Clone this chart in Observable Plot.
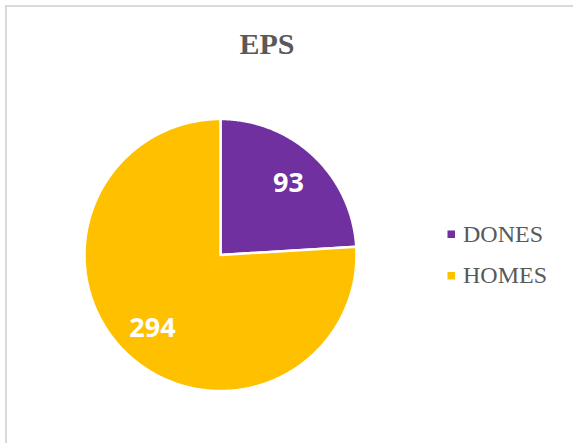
<!DOCTYPE html>
<html><head><meta charset="utf-8">
<script src="https://cdn.jsdelivr.net/npm/d3@7"></script>
<script src="https://cdn.jsdelivr.net/npm/@observablehq/plot@0.6"></script>
<style>
html,body{margin:0;padding:0;background:#fff;overflow:hidden}
#wrap{position:relative;width:573px;height:443px;overflow:hidden;background:#fff}
#frame{position:absolute;left:5px;top:5px;width:640px;height:520px;border:2px solid #d9d9d9;box-sizing:border-box}
#chart{position:absolute;left:0;top:0}
#overlay{position:absolute;left:0;top:0;pointer-events:none}
</style></head>
<body><div id="wrap"><div id="frame"></div><div id="chart"></div><svg id="overlay" width="573" height="443"></svg></div>
<script>
const title = "EPS";
const categories = ["DONES", "HOMES"];
const values = [93, 294];
const colors = ["#7030A0", "#FFC000"];

const W = 573, H = 443, cx = 220, cy = 254.5, R = 136;

const arcs = d3.pie().sort(null).value(d => d.value)(categories.map((name, i) => ({name, value: values[i]})));
const poly = [];
arcs.forEach(a => {
  const n = Math.max(2, Math.ceil((a.endAngle - a.startAngle) / 0.01));
  poly.push({name: a.data.name, x: 0, y: 0});
  for (let k = 0; k <= n; k++) {
    const t = a.startAngle + (a.endAngle - a.startAngle) * k / n;
    poly.push({name: a.data.name, x: Math.sin(t), y: Math.cos(t)});
  }
  poly.push({name: a.data.name, x: 0, y: 0});
});
const labels = arcs.map(a => {
  const m = (a.startAngle + a.endAngle) / 2, r = 0.73;
  return {name: a.data.name, value: a.data.value, x: Math.sin(m) * r, y: Math.cos(m) * r};
});

const chart = Plot.plot({
  width: W, height: H,
  marginTop: 0, marginRight: 0, marginBottom: 0, marginLeft: 0,
  x: {domain: [-cx / R, (W - cx) / R], range: [0, W], axis: null},
  y: {domain: [(cy - H) / R, cy / R], range: [H, 0], axis: null},
  color: {domain: categories, range: colors},
  style: {background: "transparent"},
  marks: [
    Plot.line(poly, {x: "x", y: "y", z: "name", fill: "name", stroke: "white", strokeWidth: 2.5, strokeLinejoin: "miter", curve: "linear"}),
    Plot.text(labels, {x: "x", y: "y", text: d => String(d.value), fill: "white", fontSize: 27, fontWeight: 700, fontFamily: "Open Sans", textAnchor: "middle", dy: 1})
  ]
});
document.getElementById("chart").appendChild(chart);

const ov = d3.select("#overlay");
ov.append("text").attr("x", 267).attr("y", 54).attr("text-anchor", "middle")
  .attr("font-family", "Liberation Serif").attr("font-weight", 700).attr("font-size", 30)
  .attr("fill", "#595959").text(title);
categories.forEach((c, i) => {
  const by = 241.5 + i * 41.5;
  ov.append("rect").attr("x", 447.5).attr("y", by - 11).attr("width", 7.5).attr("height", 7.5).attr("fill", colors[i]);
  ov.append("text").attr("x", 463).attr("y", by).attr("font-family", "Liberation Serif")
    .attr("font-size", 24).attr("textLength", null).attr("fill", "#595959").text(c);
});
</script></body></html>
